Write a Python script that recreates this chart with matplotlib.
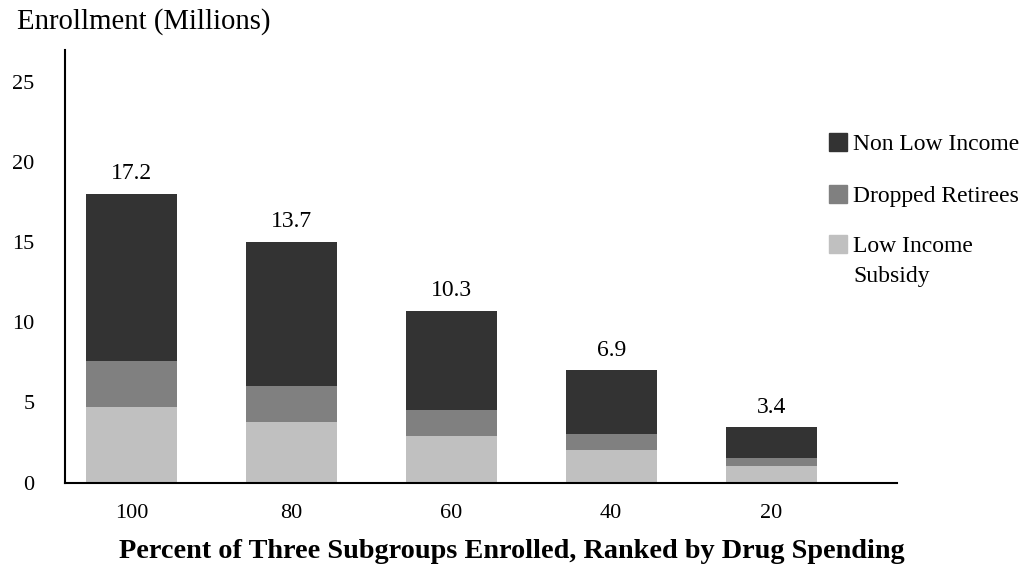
import matplotlib
matplotlib.use("Agg")
import matplotlib.pyplot as plt
from matplotlib.patches import Rectangle
import numpy as np

# Enrollment by subgroup (millions) at each enrollment percentage
percent_labels = ["100", "80", "60", "40", "20"]
low_income_subsidy = [4.7, 3.8, 2.9, 2.0, 1.0]
dropped_retirees = [2.9, 2.2, 1.65, 1.05, 0.55]
non_low_income = [10.4, 9.0, 6.15, 3.95, 1.9]
total_labels = ["17.2", "13.7", "10.3", "6.9", "3.4"]

series_names = ["Non Low Income", "Dropped Retirees", "Low Income\nSubsidy"]
series_colors = ["#333333", "#808080", "#c0c0c0"]

plt.rcParams["font.family"] = ["Liberation Serif", "DejaVu Serif"]

W, H = 1024, 567
fig = plt.figure(figsize=(W / 100, H / 100), dpi=100)
ax_left, ax_right, ax_bottom, ax_top = 65, 897, 482.5, 50
ax = fig.add_axes([ax_left / W, (H - ax_bottom) / H,
                   (ax_right - ax_left) / W, (ax_bottom - ax_top) / H])

x = np.arange(len(percent_labels))
width = 0.57
lis = np.array(low_income_subsidy)
dr = np.array(dropped_retirees)
nli = np.array(non_low_income)

ax.bar(x, lis, width, color=series_colors[2], zorder=1)
ax.bar(x, dr, width, bottom=lis, color=series_colors[1], zorder=1)
top = ax.bar(x, nli, width, bottom=lis + dr, color=series_colors[0], zorder=1)
ax.bar_label(top, labels=total_labels, padding=7, fontsize=17)

ax.set_xlim(-0.416, 4.787)
ax.set_ylim(0, 27)
ax.set_yticks([0, 5, 10, 15, 20, 25])
ax.set_xticks(x)
ax.set_xticklabels(percent_labels)
ax.tick_params(axis="y", length=0, pad=22, labelsize=16)
ax.tick_params(axis="x", length=0, pad=15.5, labelsize=16)
for s in ("top", "right"):
    ax.spines[s].set_visible(False)
for s in ("left", "bottom"):
    ax.spines[s].set_linewidth(1.5)
    ax.spines[s].set_zorder(3)

fig.text(17 / W, (H - 29) / H, "Enrollment (Millions)", fontsize=20.7,
         ha="left", va="baseline")
fig.text(511.5 / W, (H - 558) / H,
         "Percent of Three Subgroups Enrolled, Ranked by Drug Spending",
         fontsize=20.3, fontweight="bold", ha="center", va="baseline")

# Legend: square swatch followed by label lines, one entry per series
sq = 18
line_gap = 30
centers = [142, 194, 244]
for name, color, cy in zip(series_names, series_colors, centers):
    fig.add_artist(Rectangle((829 / W, (H - cy - sq / 2) / H), sq / W, sq / H,
                             transform=fig.transFigure, color=color))
    for i, line in enumerate(name.split("\n")):
        fig.text(853 / W, (H - cy - 8 - i * line_gap) / H, line, fontsize=17,
                 ha="left", va="baseline")

fig.savefig("out.png", dpi=100)
